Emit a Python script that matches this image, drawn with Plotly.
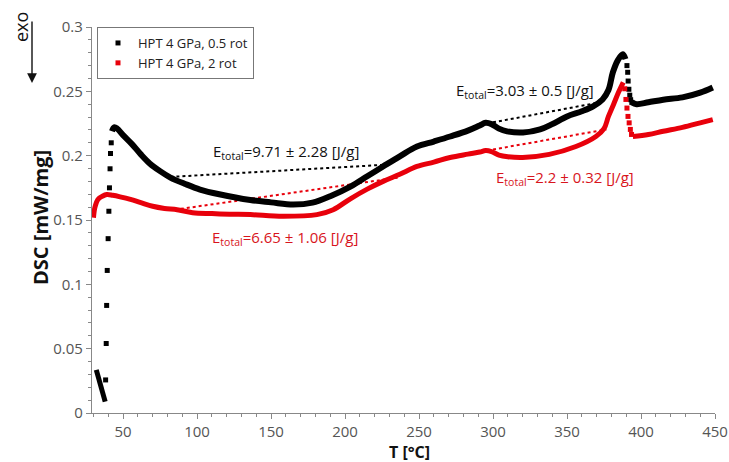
import plotly.graph_objects as go

# DSC heating curves, HPT 4 GPa, 0.5 rot (black) and 2 rot (red)
# start-up transient of the 0.5 rot run (sparse points)
t_black_start = [31.9, 33.5, 35.0, 36.5, 37.9]
dsc_black_start = [0.0335, 0.027, 0.021, 0.015, 0.0088]
t_black_jump = [38.2, 38.6, 38.9, 39.3, 39.9, 40.4, 40.8, 41.2, 41.5, 42.0]
dsc_black_jump = [0.0257, 0.054, 0.0836, 0.1108, 0.1355, 0.1568, 0.175, 0.1898, 0.2017, 0.210]
t_black = [42.5, 44.0, 46.0, 50.0, 56.0, 62.0, 68.0, 75.0, 82.0, 92.0, 102.0, 115.0, 136.0,
           150.0, 165.0, 178.0, 190.0, 203.6, 215.0, 225.7, 237.0, 248.6, 260.0, 271.0, 283.0,
           291.0, 295.0, 299.0, 304.0, 309.5, 320.3, 331.8, 340.0, 350.0, 360.0, 367.6, 374.0,
           378.0, 381.0, 384.5, 387.7, 389.5]
dsc_black = [0.219, 0.222, 0.221, 0.216, 0.209, 0.201, 0.194, 0.188, 0.183, 0.178, 0.1737,
             0.170, 0.1655, 0.1637, 0.162, 0.1635, 0.1685, 0.176, 0.184, 0.1916, 0.1995, 0.2071,
             0.211, 0.2149, 0.2195, 0.2235, 0.2255, 0.2245, 0.221, 0.2189, 0.218, 0.2204, 0.2245,
             0.2305, 0.2345, 0.2383, 0.2437, 0.251, 0.2648, 0.2745, 0.2788, 0.275]
t_black_drop = [390.5, 391.0, 391.3, 391.8, 392.4, 393.0, 393.8]
dsc_black_drop = [0.270, 0.2648, 0.258, 0.2516, 0.247, 0.2435, 0.2414]
t_black_end = [393.8, 397.0, 405.0, 415.0, 428.0, 440.0, 448.5]
dsc_black_end = [0.2414, 0.240, 0.2415, 0.2435, 0.2453, 0.249, 0.253]

t_red = [30.0, 31.0, 33.0, 36.0, 39.0, 43.0, 48.0, 55.0, 62.0, 70.0, 78.0, 86.5, 97.0, 110.0,
         122.0, 136.0, 158.0, 181.0, 192.0, 203.6, 215.0, 225.7, 237.0, 248.6, 260.0, 271.0,
         283.0, 291.0, 295.0, 299.0, 304.0, 310.0, 320.0, 338.0, 356.0, 369.5, 375.0, 378.0,
         381.5, 384.8, 388.0]
dsc_red = [0.1518, 0.160, 0.166, 0.1685, 0.1698, 0.1692, 0.168, 0.166, 0.1635, 0.1607, 0.159,
           0.158, 0.1557, 0.155, 0.1545, 0.1542, 0.1529, 0.1542, 0.158, 0.1665, 0.174, 0.180,
           0.1855, 0.1916, 0.195, 0.1986, 0.2012, 0.2028, 0.204, 0.2032, 0.2005, 0.1992, 0.1986,
           0.201, 0.2071, 0.2149, 0.221, 0.2305, 0.240, 0.2492, 0.257]
t_red_drop = [389.0, 389.8, 390.5, 391.2, 392.0, 392.8, 393.6]
dsc_red_drop = [0.252, 0.2437, 0.237, 0.2305, 0.2255, 0.2204, 0.2165]
t_red_end = [394.5, 405.0, 415.0, 428.0, 440.0, 448.5]
dsc_red_end = [0.2149, 0.2165, 0.219, 0.222, 0.2255, 0.228]

# integration baselines
base_black_1_t = [82.0, 228.0]
base_black_1_y = [0.1835, 0.193]
base_red_1_t = [85.0, 236.0]
base_red_1_y = [0.158, 0.183]
base_black_2_t = [300.0, 372.0]
base_black_2_y = [0.2259, 0.2414]
base_red_2_t = [300.0, 376.6]
base_red_2_y = [0.2048, 0.2204]

labels = [
    ("E<sub>total</sub>=9.71 ± 2.28 [J/g]", 160.2, 0.2025, "#111111"),
    ("E<sub>total</sub>=6.65 ± 1.06 [J/g]", 159.6, 0.1363, "#d8141c"),
    ("E<sub>total</sub>=3.03 ± 0.5 [J/g]", 321.6, 0.250, "#111111"),
    ("E<sub>total</sub>=2.2 ± 0.32 [J/g]", 348.8, 0.183, "#d8141c"),
]

BLACK = "#000000"
RED = "#e8000b"
FONT = "Open Sans"

# plot-area geometry in pixels (used to place the paper-referenced extras)
W, H = 729, 462
ML, MR, MT, MB = 92, 14, 27, 49
PW, PH = W - ML - MR, H - MT - MB


def px(xp):
    return (xp - ML) / PW


def py(yp):
    return (H - MB - yp) / PH


fig = go.Figure()

# baselines (dotted)
for bt, by, c in [(base_black_1_t, base_black_1_y, BLACK), (base_red_1_t, base_red_1_y, RED),
                  (base_black_2_t, base_black_2_y, BLACK), (base_red_2_t, base_red_2_y, RED)]:
    fig.add_trace(go.Scatter(x=bt, y=by, mode="lines", line=dict(color=c, width=2, dash="dot"),
                             showlegend=False, hoverinfo="skip"))

# black run
fig.add_trace(go.Scatter(x=t_black_start, y=dsc_black_start, mode="lines",
                         line=dict(color=BLACK, width=5), showlegend=False))
fig.add_trace(go.Scatter(x=t_black_jump, y=dsc_black_jump, mode="markers",
                         marker=dict(symbol="square", size=5, color=BLACK),
                         name="HPT 4 GPa, 0.5 rot"))
fig.add_trace(go.Scatter(x=t_black, y=dsc_black, mode="lines", line=dict(color=BLACK, width=6, shape="spline"),
                         showlegend=False))
fig.add_trace(go.Scatter(x=t_black_drop, y=dsc_black_drop, mode="markers",
                         marker=dict(symbol="square", size=5, color=BLACK), showlegend=False))
fig.add_trace(go.Scatter(x=t_black_end, y=dsc_black_end, mode="lines", line=dict(color=BLACK, width=6, shape="spline"),
                         showlegend=False))

# red run
fig.add_trace(go.Scatter(x=t_red, y=dsc_red, mode="lines", line=dict(color=RED, width=5, shape="spline"),
                         showlegend=False))
fig.add_trace(go.Scatter(x=t_red_drop, y=dsc_red_drop, mode="markers",
                         marker=dict(symbol="square", size=5, color=RED),
                         name="HPT 4 GPa, 2 rot"))
fig.add_trace(go.Scatter(x=t_red_end, y=dsc_red_end, mode="lines", line=dict(color=RED, width=5, shape="spline"),
                         showlegend=False))

for txt, x, y, c in labels:
    fig.add_annotation(x=x, y=y, xref="x", yref="y", text=txt, showarrow=False,
                       font=dict(family=FONT, size=15, color=c), xanchor="center", yanchor="middle")

# exo marker
fig.add_annotation(x=px(21), y=py(27), xref="paper", yref="paper", text="exo", textangle=-90,
                   showarrow=False, font=dict(family=FONT, size=18, color="#111111"),
                   xanchor="center", yanchor="middle")
fig.add_annotation(x=px(32), y=py(83), xref="paper", yref="paper", text="", showarrow=True,
                   ax=0, ay=-63, axref="pixel", ayref="pixel", arrowhead=2, arrowsize=1.4,
                   arrowwidth=1.4, arrowcolor="#111111")

# axis titles
fig.add_annotation(x=px(40), y=py(218), xref="paper", yref="paper", text="<b>DSC [mW/mg]</b>",
                   textangle=-90, showarrow=False, font=dict(family=FONT, size=20, color="#111111"),
                   xanchor="center", yanchor="middle")
fig.add_annotation(x=px(409), y=py(452), xref="paper", yref="paper", text="<b>T [°C]</b>",
                   showarrow=False, font=dict(family=FONT, size=16, color="#111111"),
                   xanchor="center", yanchor="middle")

axis_common = dict(showline=True, linecolor="#888888", linewidth=1.2, ticks="outside",
                   ticklen=5, tickcolor="#888888", showgrid=False, zeroline=False, automargin=False,
                   tickfont=dict(family=FONT, size=15, color="#555555"), mirror=False)

fig.update_xaxes(range=[29, 450], tick0=0, dtick=50,
                 minor=dict(ticks="outside", ticklen=3, dtick=10, tickcolor="#888888"),
                 **axis_common)
fig.update_yaxes(range=[0, 0.3], tick0=0, dtick=0.05,
                 minor=dict(ticks="outside", ticklen=3, dtick=0.01, tickcolor="#888888"),
                 **axis_common)

fig.update_layout(
    width=W, height=H,
    margin=dict(l=ML, r=MR, t=MT, b=MB),
    plot_bgcolor="white", paper_bgcolor="white",
    legend=dict(x=px(97), y=1.0, xanchor="left", yanchor="top", bordercolor="#777777", borderwidth=1,
                bgcolor="white", font=dict(family=FONT, size=13, color="#222222"),
                itemwidth=30, tracegroupgap=0),
    showlegend=True,
)

fig.write_html("out.html")
